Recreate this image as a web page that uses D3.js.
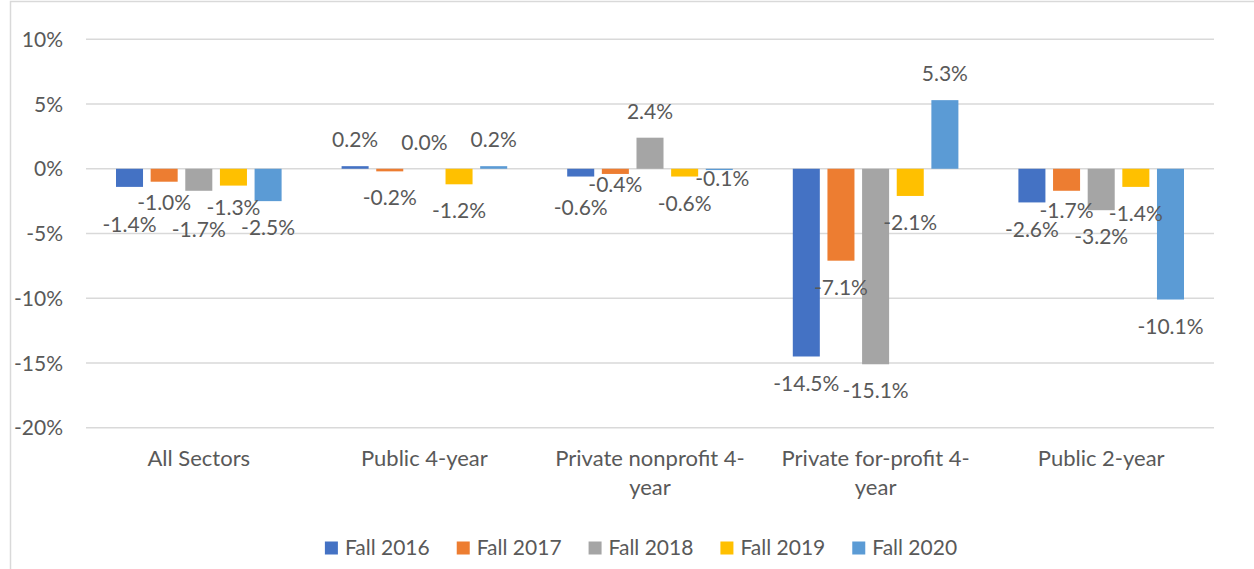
<!DOCTYPE html>
<html>
<head>
<meta charset="utf-8">
<script src="https://cdn.jsdelivr.net/npm/d3@7"></script>
<style>
  html, body { margin: 0; padding: 0; background: #ffffff; }
  svg { display: block; }
  text { font-family: "Lato", "Open Sans", sans-serif; fill: #595959; }
</style>
</head>
<body>
<svg id="chart" width="1254" height="569"></svg>
<script>
// Year-over-year enrollment change by sector
const categories = [
  "All Sectors",
  "Public 4-year",
  "Private nonprofit 4-year",
  "Private for-profit 4-year",
  "Public 2-year"
];
const seriesNames = ["Fall 2016", "Fall 2017", "Fall 2018", "Fall 2019", "Fall 2020"];
const fall2016 = [-1.4, 0.2, -0.6, -14.5, -2.6];
const fall2017 = [-1.0, -0.2, -0.4, -7.1, -1.7];
const fall2018 = [-1.7, 0.0, 2.4, -15.1, -3.2];
const fall2019 = [-1.3, -1.2, -0.6, -2.1, -1.4];
const fall2020 = [-2.5, 0.2, -0.1, 5.3, -10.1];
const yTicks = [10, 5, 0, -5, -10, -15, -20];

const seriesValues = [fall2016, fall2017, fall2018, fall2019, fall2020];
const colors = ["#4472C4", "#ED7D31", "#A5A5A5", "#FFC000", "#5B9BD5"];

// Layout
const W = 1254, H = 569;
const plot = { left: 86, right: 1214, top: 39.3, bottom: 427.7 };
const fontSize = 21;
const catFontSize = 22;
const labelGap = 27;          // distance from bar end to label centre
// Per-series label shifts (px) so crowded labels do not collide
const labelShiftY = [
  [11, 0, 4, 0, 0],
  [-6, 0, -16, 0, -7],
  [12, 0, 0, 0, 0],
  [-5, 0, 0, 0, 0],
  [0, 0, -18, 0, 0]
];
const labelShiftX = [
  [0, 0, 0, 0, 0],
  [0, 0, 0, 0, 0],
  [0, 0, 0, 0, 0],
  [0, 0, 0, 0, 0],
  [0, 0, 3, 0, 0]
];

const svg = d3.select("#chart");

// Chart area frame
svg.append("rect")
  .attr("x", 10.5).attr("y", 1.5)
  .attr("width", 1300).attr("height", 700)
  .attr("fill", "#ffffff")
  .attr("stroke", "#d9d9d9")
  .attr("stroke-width", 1.5);

const x0 = d3.scaleBand().domain(categories).range([plot.left, plot.right]).padding(0);
const inner = 30;
const x1 = d3.scaleBand().domain(seriesNames)
  .range([inner, x0.bandwidth() - inner])
  .paddingInner(0.22).paddingOuter(0);
const y = d3.scaleLinear().domain([-20, 10]).range([plot.bottom, plot.top]);

// Gridlines
svg.append("g")
  .selectAll("line")
  .data(yTicks)
  .join("line")
  .attr("x1", plot.left).attr("x2", plot.right)
  .attr("y1", d => y(d)).attr("y2", d => y(d))
  .attr("stroke", "#d9d9d9")
  .attr("stroke-width", 1.5);

// Y axis labels
const yAxis = d3.axisLeft(y).tickValues(yTicks).tickSize(0).tickPadding(0)
  .tickFormat(d => d + "%");
const gy = svg.append("g").attr("transform", `translate(${63},0)`).call(yAxis);
gy.select(".domain").remove();
gy.selectAll("text")
  .attr("font-size", fontSize)
  .attr("font-family", null)
  .attr("dy", "0.34em");

// Bars
const groups = svg.append("g")
  .selectAll("g")
  .data(categories)
  .join("g")
  .attr("transform", d => `translate(${x0(d)},0)`);

groups.each(function (cat, ci) {
  const g = d3.select(this);
  seriesNames.forEach((s, si) => {
    const v = seriesValues[si][ci];
    g.append("rect")
      .attr("x", x1(s))
      .attr("width", x1.bandwidth())
      .attr("y", Math.min(y(v), y(0)))
      .attr("height", Math.abs(y(v) - y(0)))
      .attr("fill", colors[si]);
  });
});

// Value labels
groups.each(function (cat, ci) {
  const g = d3.select(this);
  seriesNames.forEach((s, si) => {
    const v = seriesValues[si][ci];
    const cy = v >= 0 ? y(v) - labelGap + 1 : y(v) + labelGap;
    g.append("text")
      .attr("x", x1(s) + x1.bandwidth() / 2 + labelShiftX[si][ci])
      .attr("y", cy + labelShiftY[si][ci])
      .attr("dy", "0.34em")
      .attr("text-anchor", "middle")
      .attr("font-size", fontSize)
      .text(v.toFixed(1) + "%");
  });
});

// Category labels, wrapped at spaces and hyphens
const maxLabelWidth = 205;
const catG = svg.append("g");
categories.forEach(cat => {
  const cx = x0(cat) + x0.bandwidth() / 2;
  const tokens = cat.match(/[^ \-]+-?\s?|\s/g);
  const t = catG.append("text")
    .attr("text-anchor", "middle")
    .attr("font-size", catFontSize);
  let lines = [];
  let cur = "";
  const probe = catG.append("text").attr("font-size", catFontSize);
  tokens.forEach(tok => {
    const test = cur + tok;
    probe.text(test.trim());
    if (cur && probe.node().getComputedTextLength() > maxLabelWidth) {
      lines.push(cur.trim());
      cur = tok;
    } else {
      cur = test;
    }
  });
  lines.push(cur.trim());
  probe.remove();
  lines.forEach((ln, i) => {
    t.append("tspan")
      .attr("x", cx)
      .attr("y", 459 + i * 29)
      .attr("dy", "0.34em")
      .text(ln);
  });
});

// Legend
const legend = svg.append("g");
let lx = 0;
seriesNames.forEach((s, i) => {
  const item = legend.append("g");
  item.append("rect")
    .attr("x", 0).attr("y", -6.5)
    .attr("width", 13).attr("height", 13)
    .attr("fill", colors[i]);
  const tx = item.append("text")
    .attr("x", 20).attr("y", 0)
    .attr("dy", "0.34em")
    .attr("font-size", fontSize)
    .text(s);
  const w = 20 + tx.node().getComputedTextLength();
  item.attr("transform", `translate(${lx},548)`);
  lx += w + 27;
});
const legendWidth = lx - 27;
legend.attr("transform", `translate(${641 - legendWidth / 2},0)`);
</script>
</body>
</html>
